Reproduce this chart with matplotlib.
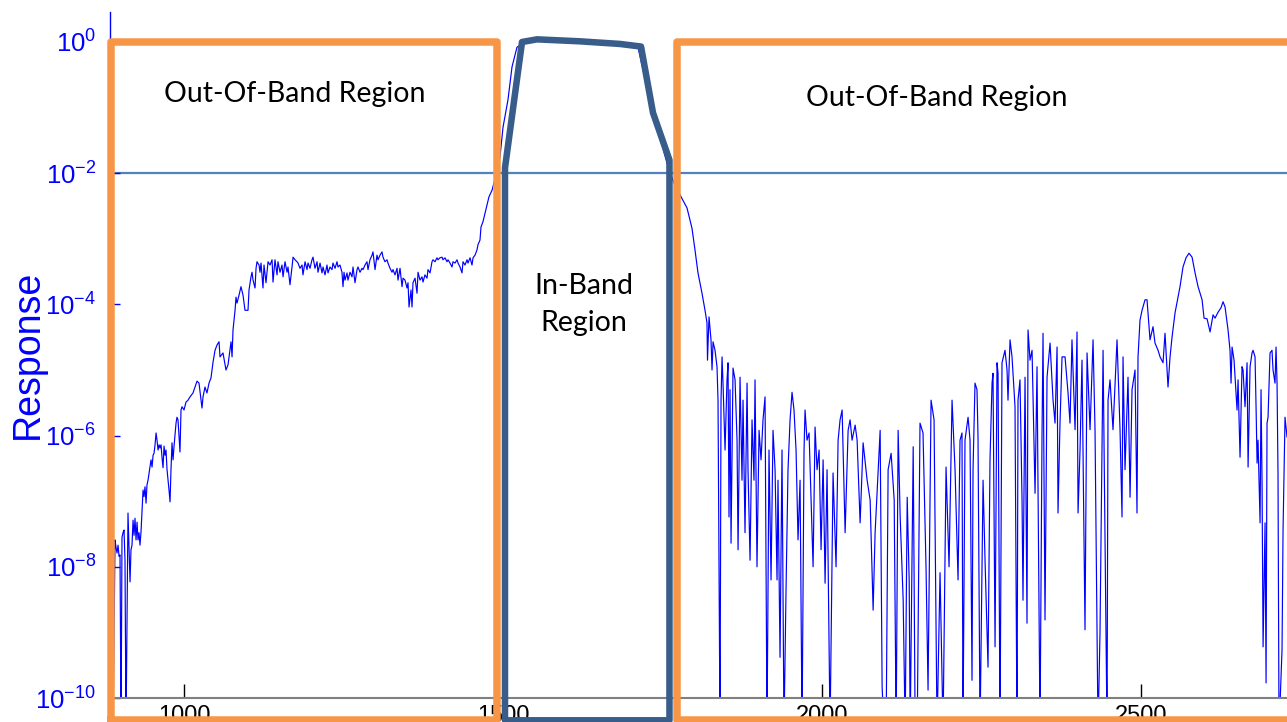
import numpy as np
import matplotlib.pyplot as plt
from matplotlib.patches import Polygon
from matplotlib.ticker import NullLocator

plt.rcParams['font.family'] = ['Liberation Sans', 'DejaVu Sans']
plt.rcParams['mathtext.default'] = 'regular'

# measured response, stored as (frequency, log10 response); -10.5 = below floor
lower_stop = [
    (888.7, -10.5), (890.3, -9.07), (891.9, -7.59), (893.5, -7.71), (895.0, -7.79),
    (896.6, -7.67), (898.2, -7.84), (899.7, -7.82), (901.3, -10.5), (902.8, -7.55),
    (904.4, -7.48), (906.0, -7.44), (907.5, -7.90), (909.1, -10.5), (912.2, -7.18),
    (915.4, -8.23), (916.9, -7.74), (918.5, -7.67), (920.1, -7.29), (921.7, -7.52),
    (923.2, -7.26), (924.8, -7.59), (926.4, -7.32), (927.9, -7.59), (929.5, -7.48),
    (931.0, -7.67), (932.6, -7.47), (934.2, -7.16), (935.8, -6.83), (937.3, -6.93),
    (938.9, -6.78), (940.5, -7.03), (942.0, -6.75), (943.6, -6.68), (946.7, -6.48),
    (948.3, -6.37), (949.9, -6.48), (951.5, -6.30), (953.0, -6.27), (954.6, -6.14),
    (956.2, -5.96), (957.7, -6.07), (959.3, -6.22), (960.9, -6.14), (962.4, -6.19),
    (964.0, -6.14), (965.6, -6.34), (967.1, -6.49), (968.7, -6.16), (970.3, -6.30),
    (971.8, -6.22), (973.4, -6.52), (975.0, -6.68), (976.5, -6.83), (978.1, -7.01),
    (979.6, -6.52), (981.2, -6.11), (982.8, -6.37), (984.3, -6.17), (987.5, -5.81),
    (989.0, -5.72), (990.6, -5.76), (992.2, -6.02), (993.7, -6.25), (995.3, -5.61),
    (996.9, -5.56), (1000.0, -5.61), (1003.1, -5.49), (1006.3, -5.46), (1009.4, -5.41),
    (1014.1, -5.35), (1017.2, -5.26), (1020.4, -5.17), (1023.5, -5.20), (1026.6, -5.46),
    (1028.2, -5.58), (1029.8, -5.41), (1032.9, -5.26), (1036.0, -5.35), (1039.2, -5.20),
    (1042.3, -5.12),
]

lower_shoulder = [
    (1045.5, -4.88), (1048.6, -4.70), (1051.7, -4.62), (1054.9, -4.57), (1056.4, -4.80),
    (1061.1, -4.74), (1065.8, -5.00), (1069.0, -4.92), (1070.6, -4.80), (1073.7, -4.57),
    (1075.3, -4.80), (1076.8, -4.39), (1080.0, -4.09), (1081.5, -3.89), (1083.1, -3.98),
    (1086.2, -3.86), (1089.3, -3.73), (1092.5, -3.86), (1095.6, -4.09), (1100.3, -4.09),
    (1101.9, -3.78), (1105.0, -3.58), (1106.6, -3.51), (1108.2, -3.63), (1111.3, -3.75),
    (1112.9, -3.45), (1114.4, -3.35), (1117.6, -3.40), (1119.1, -3.51), (1120.7, -3.37),
    (1123.8, -3.75), (1125.4, -3.40), (1128.5, -3.67), (1131.7, -3.35), (1134.8, -3.40),
    (1138.0, -3.32), (1139.5, -3.66), (1142.6, -3.32), (1145.8, -3.55), (1147.3, -3.35),
    (1150.5, -3.51), (1153.6, -3.40), (1155.2, -3.58), (1158.3, -3.35), (1161.5, -3.51),
    (1163.0, -3.43), (1166.1, -3.70), (1169.3, -3.43), (1170.9, -3.28), (1174.0, -3.32),
    (1177.1, -3.35), (1178.7, -3.37), (1181.8, -3.45), (1185.0, -3.40), (1186.5, -3.55),
    (1189.7, -3.35), (1192.8, -3.47), (1194.4, -3.37), (1197.5, -3.45), (1200.6, -3.32),
    (1202.2, -3.28), (1205.3, -3.45), (1208.5, -3.35), (1210.0, -3.51), (1213.2, -3.37),
    (1216.3, -3.52), (1217.9, -3.43), (1221.0, -3.55), (1224.1, -3.40), (1225.7, -3.52),
    (1228.8, -3.43), (1232.0, -3.47), (1233.5, -3.37), (1236.7, -3.45), (1239.8, -3.35),
    (1241.4, -3.43), (1244.5, -3.40), (1247.6, -3.51), (1249.2, -3.73), (1250.8, -3.51),
    (1252.4, -3.63), (1255.5, -3.52), (1257.0, -3.63), (1260.2, -3.51), (1263.3, -3.58),
    (1264.9, -3.43), (1268.0, -3.67), (1271.2, -3.47), (1272.7, -3.43), (1275.9, -3.51),
    (1279.0, -3.45), (1280.6, -3.47), (1283.7, -3.40), (1286.8, -3.35), (1288.4, -3.47),
    (1291.5, -3.32), (1294.7, -3.25), (1296.2, -3.20), (1299.4, -3.47), (1302.5, -3.25),
    (1304.1, -3.32), (1307.2, -3.25), (1310.3, -3.20), (1311.9, -3.28), (1315.0, -3.35),
    (1318.2, -3.32), (1319.7, -3.37), (1322.9, -3.45), (1326.0, -3.51), (1327.6, -3.47),
    (1330.7, -3.55), (1333.9, -3.45), (1335.4, -3.63), (1338.6, -3.45), (1341.7, -3.73),
    (1343.3, -3.60), (1346.4, -3.63), (1349.5, -3.75), (1351.1, -3.67), (1352.7, -4.04),
    (1355.8, -3.78), (1357.4, -4.04), (1358.9, -3.67), (1362.1, -3.60), (1365.2, -3.83),
    (1366.8, -3.51), (1369.9, -3.63), (1373.0, -3.58), (1374.6, -3.66), (1377.7, -3.55),
    (1380.9, -3.60), (1382.4, -3.47), (1385.6, -3.52), (1388.7, -3.35), (1390.3, -3.32),
    (1393.4, -3.35), (1396.5, -3.29), (1398.1, -3.32), (1401.2, -3.29), (1404.4, -3.28),
    (1405.9, -3.32), (1409.1, -3.29), (1412.2, -3.35), (1413.8, -3.32), (1416.9, -3.37),
    (1420.1, -3.43), (1421.6, -3.35), (1424.8, -3.37), (1427.9, -3.32), (1429.5, -3.37),
    (1432.6, -3.43), (1435.7, -3.52), (1437.3, -3.35), (1440.4, -3.40), (1443.6, -3.32),
    (1445.1, -3.37), (1448.3, -3.29), (1451.4, -3.40), (1453.0, -3.29), (1456.1, -3.25),
    (1459.2, -3.17), (1460.8, -3.09), (1463.9, -3.02),
]

passband = [
    (1465.5, -2.82), (1468.6, -2.74), (1471.8, -2.61), (1474.9, -2.49), (1478.0, -2.36),
    (1482.8, -2.26), (1489.0, -2.03), (1495.3, -1.75), (1500.0, -1.30), (1507.8, -0.88),
    (1514.1, -0.38), (1521.9, -0.08), (1534.5, 0.0), (1558.0, 0.03), (1613.0, 0.0),
    (1683.4, -0.03), (1712.0, -0.10), (1736.0, -1.15), (1750.0, -1.60), (1760.0, -1.95),
    (1768.0, -2.15), (1777.4, -2.33), (1788.4, -2.53), (1796.2, -2.84), (1800.9, -3.17),
    (1805.6, -3.52), (1811.9, -3.83), (1816.6, -4.09), (1819.7, -4.28),
]

upper_stop = [
    (1820.5, -4.85), (1822.9, -4.19), (1826.0, -4.54), (1827.6, -5.00), (1829.2, -4.57),
    (1832.3, -4.70), (1835.4, -4.95), (1837.0, -5.46), (1840.1, -10.5), (1841.7, -5.46),
    (1843.3, -4.80), (1844.8, -5.20), (1848.0, -6.22), (1851.1, -5.15), (1852.7, -4.89),
    (1854.2, -7.24), (1855.8, -5.30), (1857.4, -7.64), (1860.5, -4.97), (1863.7, -5.15),
    (1866.8, -6.07), (1868.4, -7.74), (1871.5, -5.11), (1874.6, -6.68), (1876.2, -5.46),
    (1879.3, -7.48), (1882.5, -5.20), (1884.0, -6.52), (1887.2, -7.90), (1890.3, -5.76),
    (1893.4, -6.68), (1895.0, -5.15), (1898.1, -8.00), (1901.3, -5.92), (1904.4, -6.37),
    (1907.5, -5.76), (1910.7, -5.41), (1913.8, -10.5), (1916.9, -6.22), (1920.1, -8.20),
    (1923.2, -5.92), (1926.4, -6.52), (1929.5, -8.20), (1931.0, -6.68), (1934.2, -9.38),
    (1937.3, -6.22), (1940.4, -10.5), (1943.6, -8.35), (1946.7, -6.52), (1949.9, -5.76),
    (1953.0, -5.34), (1956.1, -5.61), (1959.3, -6.22), (1962.4, -7.59), (1965.6, -6.68),
    (1968.7, -10.5), (1971.8, -6.22), (1973.4, -5.61), (1976.5, -6.07), (1979.7, -5.96),
    (1982.8, -6.98), (1986.0, -8.00), (1989.1, -5.87), (1992.2, -6.52), (1995.4, -6.22),
    (1998.5, -7.74), (2001.7, -6.37), (2004.8, -8.25), (2007.9, -6.52), (2012.6, -10.5),
    (2017.3, -6.57), (2022.0, -8.00), (2025.2, -6.07), (2028.3, -5.76), (2031.5, -5.61),
    (2036.2, -7.48), (2040.9, -5.92), (2044.0, -5.76), (2047.1, -6.07), (2051.9, -5.84),
    (2055.0, -6.07), (2059.7, -7.33), (2064.4, -6.11), (2070.7, -6.68), (2075.4, -6.98),
    (2080.1, -8.66), (2083.2, -7.48), (2091.1, -5.92), (2094.2, -9.83), (2097.3, -10.5),
    (2100.5, -10.5), (2103.6, -6.52), (2108.3, -6.27), (2113.1, -6.98), (2116.2, -10.5),
    (2119.3, -5.92), (2122.5, -7.24), (2127.2, -8.51), (2130.3, -10.5), (2133.5, -6.94),
    (2136.6, -8.20), (2138.2, -10.5), (2142.9, -6.17), (2146.0, -10.5), (2149.2, -10.5),
    (2153.6, -5.81), (2158.3, -5.96), (2163.0, -8.00), (2166.2, -9.88), (2170.9, -5.46),
    (2175.6, -5.76), (2180.3, -10.5), (2185.0, -8.09), (2189.7, -10.5), (2194.4, -6.48),
    (2199.1, -8.00), (2203.8, -5.46), (2208.5, -6.52), (2213.2, -8.20),
]

upper_far = [
    (2216.3, -6.07), (2219.4, -5.96), (2221.0, -10.5), (2224.1, -6.07), (2228.9, -5.72),
    (2232.0, -6.07), (2235.1, -9.73), (2236.7, -6.52), (2239.8, -5.20), (2242.9, -5.30),
    (2244.5, -6.02), (2247.7, -10.5), (2252.4, -6.68), (2255.5, -7.90), (2260.2, -9.53),
    (2263.3, -6.37), (2266.5, -5.20), (2268.0, -5.05), (2271.2, -9.22), (2274.3, -4.89),
    (2275.9, -5.05), (2279.0, -10.5), (2282.1, -4.89), (2286.8, -4.70), (2290.0, -5.00),
    (2291.5, -5.46), (2294.7, -4.54), (2297.8, -4.80), (2302.5, -5.56), (2305.6, -10.5),
    (2307.2, -5.46), (2310.3, -5.15), (2313.5, -6.98), (2315.0, -8.51), (2318.2, -5.11),
    (2321.3, -8.86), (2322.9, -4.39), (2326.0, -4.85), (2329.2, -4.70), (2333.9, -6.88),
    (2337.0, -4.95), (2341.7, -10.5), (2344.8, -6.02), (2346.4, -4.44), (2349.5, -8.81),
    (2352.7, -5.11), (2357.4, -4.59), (2362.1, -5.46), (2365.2, -5.81), (2368.4, -4.65),
    (2369.9, -7.18), (2373.0, -5.81), (2376.2, -4.80), (2380.9, -4.80), (2385.6, -5.35),
    (2388.7, -5.81), (2391.8, -4.54), (2396.6, -5.91), (2399.7, -4.42), (2401.3, -7.18),
    (2404.4, -6.22), (2407.5, -4.85), (2412.2, -8.96), (2415.4, -4.74), (2420.1, -5.91),
    (2424.8, -4.54), (2427.9, -5.91), (2432.6, -10.5), (2435.7, -9.01), (2440.5, -4.70),
    (2446.7, -10.5), (2448.3, -5.46), (2451.4, -5.15), (2456.1, -5.91), (2462.4, -4.54),
    (2467.1, -5.91), (2470.2, -7.24), (2471.8, -4.80), (2474.9, -6.52), (2479.6, -5.11),
    (2482.8, -6.94), (2485.9, -5.30), (2490.6, -5.00), (2493.7, -7.18), (2495.3, -4.80),
    (2498.4, -4.24), (2501.6, -4.09), (2506.3, -3.93), (2509.4, -3.93), (2514.1, -4.54),
    (2518.8, -4.34), (2521.9, -4.59), (2526.7, -4.70), (2529.8, -4.80), (2534.5, -4.89),
    (2537.6, -4.44), (2542.3, -5.26), (2545.5, -4.80), (2548.6, -4.50), (2553.3, -4.13),
    (2561.1, -3.73), (2565.8, -3.43), (2570.5, -3.29), (2575.2, -3.22), (2580.0, -3.28),
    (2584.7, -3.52), (2589.4, -3.73), (2595.7, -3.93), (2598.8, -4.21), (2603.5, -4.22),
    (2608.2, -4.42), (2612.9, -4.16), (2616.0, -4.21), (2620.7, -4.12), (2625.4, -4.05),
    (2628.6, -3.96), (2631.7, -4.04), (2636.4, -4.39), (2639.5, -4.70), (2641.1, -5.20),
    (2642.7, -4.65), (2645.8, -4.85), (2647.4, -5.11), (2650.5, -5.61), (2652.1, -5.15),
    (2655.2, -6.33), (2658.3, -4.95), (2659.9, -5.00), (2663.0, -5.56), (2666.2, -4.89),
    (2667.8, -6.48), (2670.9, -4.95), (2674.0, -4.74), (2675.6, -4.70), (2678.7, -4.80),
    (2680.3, -5.56), (2681.9, -6.42), (2683.4, -6.07), (2686.6, -7.33), (2688.1, -5.30),
    (2689.7, -6.72), (2691.3, -9.22), (2694.4, -7.33), (2696.0, -9.77), (2697.5, -5.81),
    (2699.1, -5.72), (2702.2, -4.74), (2705.3, -4.70), (2706.9, -5.00), (2710.0, -5.20),
    (2711.6, -4.65), (2713.2, -5.20), (2714.7, -6.57), (2716.3, -10.5), (2721.0, -9.27),
    (2722.6, -7.44), (2725.7, -5.72), (2728.8, -6.02),
]

THRESHOLD = 1e-2
YTICKS = [1e-10, 1e-8, 1e-6, 1e-4, 1e-2, 1e0]
XTICKS = [1000, 1500, 2000, 2500]

# region outlines (frequency, log10 response)
LOW_BOX = (885.6, 1489.8)
HIGH_BOX_START = 1772.2
BOX_TOP = 0.0
BOX_BOTTOM = -10.34
inband_outline = [
    (1503.1, -10.34), (1503.1, -1.92), (1529.8, 0.0), (1553.3, 0.04), (1620.7, 0.01),
    (1683.4, -0.03), (1716.3, -0.07), (1735.1, -1.08), (1760.9, -1.80), (1760.9, -10.34),
]

segments = [lower_stop, lower_shoulder, passband, upper_stop, upper_far]
freq = np.array([f for seg in segments for f, _ in seg])
resp = 10.0 ** np.array([e for seg in segments for _, e in seg])

fig = plt.figure(figsize=(12.87, 7.22), dpi=100)
ax = fig.add_axes([110 / 1287, 24 / 722, 1177 / 1287, 686 / 722])

ax.axhline(THRESHOLD, color='#5082C0', lw=1.6, zorder=1.5)
ax.semilogy(freq, resp, color='blue', lw=0.85, zorder=2)

ax.set_xlim(884.0, 2728.8)
ax.set_ylim(1e-10, 10 ** 0.457)
ax.set_xticks(XTICKS)
ax.set_yticks(YTICKS)
ax.yaxis.set_minor_locator(NullLocator())
ax.xaxis.set_minor_locator(NullLocator())

for side in ('top', 'right'):
    ax.spines[side].set_visible(False)
ax.spines['left'].set_color('blue')
ax.spines['left'].set_linewidth(1.0)
ax.spines['bottom'].set_color('#808080')
ax.spines['bottom'].set_linewidth(1.5)

ax.tick_params(axis='y', direction='in', colors='blue', labelsize=18.5,
               length=7, width=1, pad=10)
ax.tick_params(axis='x', direction='in', color='black', labelcolor='black',
               labelsize=17, length=10, width=1, pad=5)

fig.text(28 / 1287, 1 - 354 / 722, 'Response', rotation=90, color='blue',
         fontsize=27, ha='center', va='center')

# out-of-band / in-band outlines drawn over the trace
orange = '#F79646'
lo, hi = LOW_BOX
ax.plot([lo, lo, hi, hi, lo], 10.0 ** np.array([BOX_BOTTOM, BOX_TOP, BOX_TOP, BOX_BOTTOM, BOX_BOTTOM]),
        color=orange, lw=5.4, solid_joinstyle='round', clip_on=False, zorder=5)
ax.plot([2800, HIGH_BOX_START, HIGH_BOX_START, 2800],
        10.0 ** np.array([BOX_TOP, BOX_TOP, BOX_BOTTOM, BOX_BOTTOM]),
        color=orange, lw=5.4, solid_joinstyle='round', clip_on=False, zorder=5)
pts = np.array([(f, 10.0 ** e) for f, e in inband_outline])
ax.add_patch(Polygon(pts, closed=True, fill=False, edgecolor='#385D8A', lw=4.7,
                     joinstyle='round', clip_on=False, zorder=6))

label_font = dict(family=['Lato', 'DejaVu Sans'], fontsize=20.5, color='black', zorder=7)
ax.text(1174, 10 ** -0.80, 'Out-Of-Band Region', ha='center', va='center', **label_font)
ax.text(2180, 10 ** -0.86, 'Out-Of-Band Region', ha='center', va='center', **label_font)
ax.text(1627, 10 ** -4.0, 'In-Band\nRegion', ha='center', va='center',
        linespacing=1.5, **label_font)

fig.savefig('out.png', dpi=100)
